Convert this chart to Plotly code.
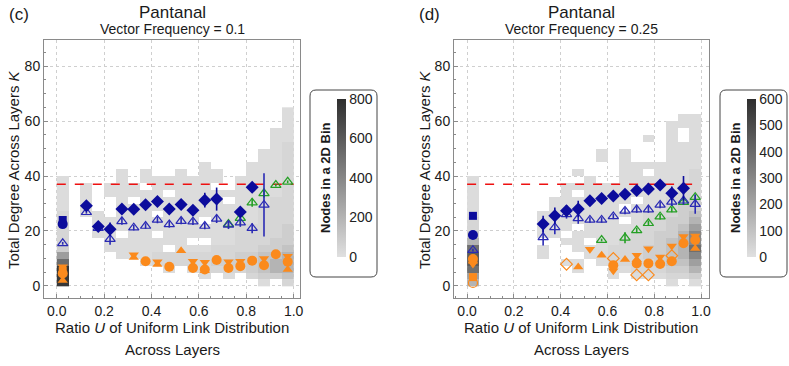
import plotly.graph_objects as go

W, H = 789, 366

# 2D histogram bin centres
u_centres = [0.025, 0.075, 0.125, 0.175, 0.225, 0.275, 0.325, 0.375, 0.425, 0.475,
             0.525, 0.575, 0.625, 0.675, 0.725, 0.775, 0.825, 0.875, 0.925, 0.975]
k_centres = [1.25, 3.75, 6.25, 8.75, 11.25, 13.75, 16.25, 18.75, 21.25, 23.75, 26.25,
             28.75, 31.25, 33.75, 36.25, 38.75, 41.25, 43.75, 46.25, 48.75, 51.25,
             53.75, 56.25, 58.75, 61.25, 63.75]

# node counts per bin, one string per K row, top row (K 62.5-65) first
grid_c = [
    "...................1",
    "...................1",
    "...................1",
    "..................11",
    "..................11",
    "..................12",
    ".................112",
    ".................112",
    "............1...1112",
    ".....1.1..1.11..1112",
    "1....1.1111111.11112",
    "1.1.111.11111..11112",
    "1.1.11111.1111111112",
    "1.1..1.1111111.11122",
    "1.1..111111111111222",
    "2.11.111.11111111222",
    "2..111111111.1111222",
    "2..11111111111122223",
    "2..11.11.11111122223",
    "2...1111111..1122233",
    "3...11111.1112222334",
    "6....111222222233445",
    "8......1222223333455",
    "X........1.122223455",
    "X...........1.1.2334",
    "X................1.2",
]
counts_c = {"1": 20, "2": 45, "3": 80, "4": 130, "5": 200, "6": 300,
            "7": 400, "8": 520, "9": 650, "X": 760}

grid_d = [
    "....................",
    "..................11",
    ".................111",
    ".................1.1",
    "...............1.1.1",
    ".................111",
    "...........1.1...111",
    "...........1.1...111",
    ".............1111111",
    ".........1...11.1112",
    "1.........1..1111112",
    "1.......111111111122",
    "1.......1.1111111122",
    "1......1111111.11223",
    "1......111111.111233",
    "1.....11111111122234",
    "2.....1111111.122335",
    "2.....111.1111122346",
    "3.....11.11111223357",
    "5.......11.112223457",
    "8.....1..11122233458",
    "9.....1...1122233457",
    "9.......11.122223446",
    "8........1..11222335",
    "6...........1.111223",
    "5................1.1",
]
counts_d = {"1": 15, "2": 35, "3": 60, "4": 100, "5": 150, "6": 220,
            "7": 300, "8": 380, "9": 450, "X": 540}

k_ref = 37

# ---- panel (c) markers ----
c_bdia_u = [0.125, 0.175, 0.225, 0.275, 0.325, 0.375, 0.425, 0.475, 0.525, 0.575, 0.625, 0.675, 0.775, 0.825]
c_bdia_k = [29.2, 21.6, 20.6, 28.0, 27.9, 29.5, 30.7, 28.0, 29.6, 27.5, 31.2, 31.6, 26.9, 35.9]
c_bdia_e = [0.8, 0.8, 2.5, 0.6, 0.6, 0.6, 0.7, 0.6, 0.6, 0.8, 2.7, 4.2, 1.2, 0.8]

c_btri_u = [0.025, 0.125, 0.175, 0.225, 0.275, 0.325, 0.375, 0.425, 0.475, 0.525, 0.575, 0.625, 0.675, 0.725, 0.775, 0.825, 0.875]
c_btri_k = [15.5, 26.8, 21.0, 17.0, 23.5, 21.2, 21.8, 24.0, 22.4, 23.6, 23.4, 21.8, 24.4, 22.2, 23.0, 21.0, 29.5]
c_btri_e = [0.5, 0.5, 0.5, 2.0, 1.2, 1.0, 1.0, 1.2, 1.2, 1.2, 1.2, 1.2, 1.5, 1.5, 1.5, 1.8, 11.5]

c_gtri_u = [0.725, 0.775, 0.825, 0.875, 0.925, 0.975]
c_gtri_k = [22.5, 24.7, 30.3, 33.7, 36.7, 37.9]
c_gtri_e = [1.5, 2.5, 1.5, 1.5, 0.5, 0.5]

c_bsq_u, c_bsq_k = [0.025], [24.0]
c_bcirc_u, c_bcirc_k = [0.025], [22.5]

c_ocirc_u = [0.025, 0.375, 0.475, 0.575, 0.625, 0.675, 0.725, 0.775, 0.825, 0.875, 0.925, 0.975]
c_ocirc_k = [4.5, 9.0, 7.0, 6.5, 6.0, 9.4, 6.5, 7.2, 9.2, 7.5, 11.5, 8.8]
c_odown_u = [0.025, 0.325, 0.425, 0.575, 0.625, 0.725, 0.775, 0.875, 0.975]
c_odown_k = [7.0, 11.3, 8.8, 9.0, 8.6, 8.8, 9.0, 10.0, 10.8]
c_oup_u = [0.025, 0.325, 0.425, 0.525, 0.575, 0.625, 0.975]
c_oup_k = [2.0, 10.3, 7.8, 12.8, 7.5, 5.5, 6.0]
c_osq_u, c_osq_k = [0.025], [5.5]

# ---- panel (d) markers ----
d_bdia_u = [0.325, 0.375, 0.425, 0.475, 0.525, 0.575, 0.625, 0.675, 0.725, 0.775, 0.825, 0.875, 0.925]
d_bdia_k = [22.5, 25.5, 27.4, 28.0, 31.0, 31.8, 32.7, 33.4, 34.7, 35.3, 36.7, 33.7, 35.5]
d_bdia_e = [3.0, 3.0, 2.0, 3.0, 0.6, 0.6, 0.6, 0.6, 0.6, 0.8, 1.5, 2.5, 4.5]

d_btri_u = [0.025, 0.325, 0.375, 0.425, 0.475, 0.525, 0.575, 0.625, 0.675, 0.725, 0.775, 0.825, 0.875, 0.925, 0.975]
d_btri_k = [13.0, 17.7, 21.3, 26.0, 24.6, 24.0, 24.0, 25.3, 27.3, 27.8, 27.8, 29.5, 30.6, 31.0, 29.8]
d_btri_e = [0.5, 3.0, 2.5, 1.5, 2.0, 1.0, 1.0, 1.0, 1.2, 1.2, 1.2, 1.2, 1.5, 1.5, 3.5]

d_gtri_u = [0.575, 0.675, 0.725, 0.775, 0.825, 0.875, 0.925, 0.975]
d_gtri_k = [16.7, 17.5, 20.2, 22.8, 25.2, 27.8, 30.5, 32.3]
d_gtri_e = [0.5, 2.0, 1.0, 1.0, 1.0, 1.0, 1.0, 1.0]

d_bsq_u, d_bsq_k = [0.025], [25.5]
d_bcirc_u, d_bcirc_k = [0.025], [18.5]

d_ocirc_u = [0.025, 0.625, 0.725, 0.775, 0.825, 0.875, 0.925, 0.975]
d_ocirc_k = [9.8, 7.5, 8.2, 8.2, 8.0, 9.0, 15.5, 16.7]
d_odown_u = [0.025, 0.525, 0.625, 0.725, 0.775, 0.825, 0.875, 0.925, 0.975]
d_odown_k = [8.0, 13.3, 5.5, 11.2, 13.5, 10.5, 14.5, 18.0, 18.2]
d_oup_u = [0.025, 0.475, 0.575, 0.675, 0.725, 0.825, 0.975]
d_oup_k = [9.0, 6.9, 11.2, 9.6, 9.5, 9.0, 13.6]
d_odia_u = [0.425, 0.625, 0.725, 0.775, 0.875]
d_odia_k = [7.9, 10.0, 4.0, 4.0, 11.0]
d_osq_u, d_osq_k = [0.025], [3.2]
d_oopen_u, d_oopen_k = [0.025], [1.1]

NAVY = "#0c0c9c"
BLUE = "#2a2ab4"
GREEN = "#25a025"
ORANGE = "#fb8a1c"
FONT = "Liberation Sans, Arial, sans-serif"


def grid_to_z(grid, counts):
	return [[counts.get(ch) for ch in line] for line in reversed(grid)]


def px_x(x):
	return x / W


def px_y(y):
	return (H - y) / H


def marker_trace(u, k, symbol, color, size, xa, ya, err=None, line_w=0):
	tr = go.Scatter(
		x=u, y=k, mode="markers", xaxis=xa, yaxis=ya, hoverinfo="skip",
		marker=dict(symbol=symbol, color=color, size=size, line=dict(color=color, width=line_w)),
	)
	if err is not None:
		tr.error_y = dict(type="data", array=err, color=color, thickness=1.6, width=0)
	return tr


fig = go.Figure()


def add_panel(grid, counts, zmax, cb_ticks, cb_x, xa, ya, m):
	fig.add_trace(go.Heatmap(
		x=u_centres, y=k_centres, z=grid_to_z(grid, counts), xaxis=xa, yaxis=ya,
		zmin=0, zmax=zmax, hoverinfo="skip",
		colorscale=[[0, "rgb(224,224,224)"], [1, "rgb(46,46,46)"]],
		colorbar=dict(
			x=px_x(cb_x), xanchor="left", y=px_y(178), yanchor="middle",
			len=158 / H, lenmode="fraction", thickness=9, thicknessmode="pixels",
			xpad=0, ypad=0, outlinewidth=0, tickvals=cb_ticks, ticks="",
			tickfont=dict(size=14, color="#222", family=FONT),
		),
	))
	fig.add_trace(go.Scatter(x=[0, 1.0], y=[k_ref, k_ref], mode="lines", xaxis=xa, yaxis=ya,
		line=dict(color="#ee1111", width=1.6, dash="dash"), hoverinfo="skip"))
	for tr in m:
		fig.add_trace(tr)


m_c = [
	marker_trace(c_gtri_u, c_gtri_k, "triangle-up-open", GREEN, 9, "x", "y", c_gtri_e, 1.2),
	marker_trace(c_btri_u, c_btri_k, "triangle-up-open", BLUE, 9, "x", "y", c_btri_e, 1.2),
	marker_trace(c_bdia_u, c_bdia_k, "diamond", NAVY, 10, "x", "y", c_bdia_e),
	marker_trace(c_bsq_u, c_bsq_k, "square", NAVY, 8, "x", "y"),
	marker_trace(c_bcirc_u, c_bcirc_k, "circle", NAVY, 10, "x", "y"),
	marker_trace(c_osq_u, c_osq_k, "square", ORANGE, 8, "x", "y"),
	marker_trace(c_oup_u, c_oup_k, "triangle-up", ORANGE, 9, "x", "y"),
	marker_trace(c_odown_u, c_odown_k, "triangle-down", ORANGE, 9, "x", "y"),
	marker_trace(c_ocirc_u, c_ocirc_k, "circle", ORANGE, 10, "x", "y"),
]
m_d = [
	marker_trace(d_gtri_u, d_gtri_k, "triangle-up-open", GREEN, 9, "x2", "y2", d_gtri_e, 1.2),
	marker_trace(d_btri_u, d_btri_k, "triangle-up-open", BLUE, 9, "x2", "y2", d_btri_e, 1.2),
	marker_trace(d_bdia_u, d_bdia_k, "diamond", NAVY, 10, "x2", "y2", d_bdia_e),
	marker_trace(d_bsq_u, d_bsq_k, "square", NAVY, 8, "x2", "y2"),
	marker_trace(d_bcirc_u, d_bcirc_k, "circle", NAVY, 10, "x2", "y2"),
	marker_trace(d_odia_u, d_odia_k, "diamond-open", ORANGE, 9, "x2", "y2", None, 1.2),
	marker_trace(d_oopen_u, d_oopen_k, "circle-open", ORANGE, 9, "x2", "y2", None, 1.2),
	marker_trace(d_osq_u, d_osq_k, "square", ORANGE, 8, "x2", "y2"),
	marker_trace(d_oup_u, d_oup_k, "triangle-up", ORANGE, 9, "x2", "y2"),
	marker_trace(d_odown_u, d_odown_k, "triangle-down", ORANGE, 9, "x2", "y2"),
	marker_trace(d_ocirc_u, d_ocirc_k, "circle", ORANGE, 10, "x2", "y2"),
]

add_panel(grid_c, counts_c, 800, [0, 200, 400, 600, 800], 337, "x", "y", m_c)
add_panel(grid_d, counts_d, 600, [0, 100, 200, 300, 400, 500, 600], 747, "x2", "y2", m_d)

x_ticks = [0, 0.2, 0.4, 0.6, 0.8, 1.0]
x_labels = ["0.0", "0.2", "0.4", "0.6", "0.8", "1.0"]
y_ticks = [0, 20, 40, 60, 80]

axis_common = dict(
	showline=True, mirror=True, linecolor="#8a8a8a", linewidth=1, automargin=False,
	showgrid=True, gridcolor="#cfcfcf", griddash="dot", gridwidth=1,
	ticks="inside", ticklen=4, tickcolor="#8a8a8a", zeroline=False,
	tickfont=dict(size=14, color="#1a1a1a", family=FONT),
)
xa_common = dict(axis_common, tickvals=x_ticks, ticktext=x_labels,
	minor=dict(dtick=0.05, ticks="inside", ticklen=2, tickcolor="#8a8a8a", showgrid=False))
ya_common = dict(axis_common, tickvals=y_ticks, range=[-4.4, 89.5],
	minor=dict(dtick=5, ticks="inside", ticklen=2, tickcolor="#8a8a8a", showgrid=False))

fig.update_layout(
	width=W, height=H, margin=dict(l=0, r=0, t=0, b=0, autoexpand=False),
	paper_bgcolor="white", plot_bgcolor="white", showlegend=False,
	font=dict(family=FONT, color="#222"),
	xaxis=dict(xa_common, domain=[px_x(44), px_x(300)], range=[-0.054, 1.027], anchor="y"),
	yaxis=dict(ya_common, domain=[px_y(298), px_y(40)], anchor="x"),
	xaxis2=dict(xa_common, domain=[px_x(454), px_x(709)], range=[-0.056, 1.034], anchor="y2"),
	yaxis2=dict(ya_common, domain=[px_y(298), px_y(40)], anchor="x2"),
)


def text(x, y, s, size, anchor="center", angle=0):
	fig.add_annotation(x=px_x(x), y=px_y(y), xref="paper", yref="paper", text=s,
		showarrow=False, xanchor=anchor, yanchor="middle", textangle=angle,
		font=dict(size=size, color="#1a1a1a", family=FONT))


def rounded_box(x0, y0, x1, y1, r=6):
	rx, ry = r / W, r / H
	a, b, t, bt = px_x(x0), px_x(x1), px_y(y0), px_y(y1)
	path = (f"M {a+rx},{t} L {b-rx},{t} Q {b},{t} {b},{t-ry} L {b},{bt+ry} "
		f"Q {b},{bt} {b-rx},{bt} L {a+rx},{bt} Q {a},{bt} {a},{bt+ry} "
		f"L {a},{t-ry} Q {a},{t} {a+rx},{t} Z")
	fig.add_shape(type="path", path=path, xref="paper", yref="paper",
		line=dict(color="#444", width=1))


for cx, tag, freq, yx, box in [(172, "(c)", "0.1", 14, 310), (581, "(d)", "0.25", 425, 720)]:
	text(cx, 12, "Pantanal", 17)
	text(cx, 29, f"Vector Frequency = {freq}", 14)
	text(cx, 327, "Ratio <i>U</i> of Uniform Link Distribution", 15)
	text(cx, 349, "Across Layers", 15)
	text(yx, 170, "Total Degree Across Layers <i>K</i>", 15, angle=-90)
	text(box + 15, 178, "<b>Nodes in a 2D Bin</b>", 13, angle=-90)
	rounded_box(box, 90, box + 67, 277)

text(7, 14, "(c)", 17, anchor="left")
text(417, 14, "(d)", 17, anchor="left")

# the page body has a default margin; drop it so the figure sits at the window origin
fig.write_html("out.html", config={"displayModeBar": False},
	post_script="document.body.style.margin='0px';")
